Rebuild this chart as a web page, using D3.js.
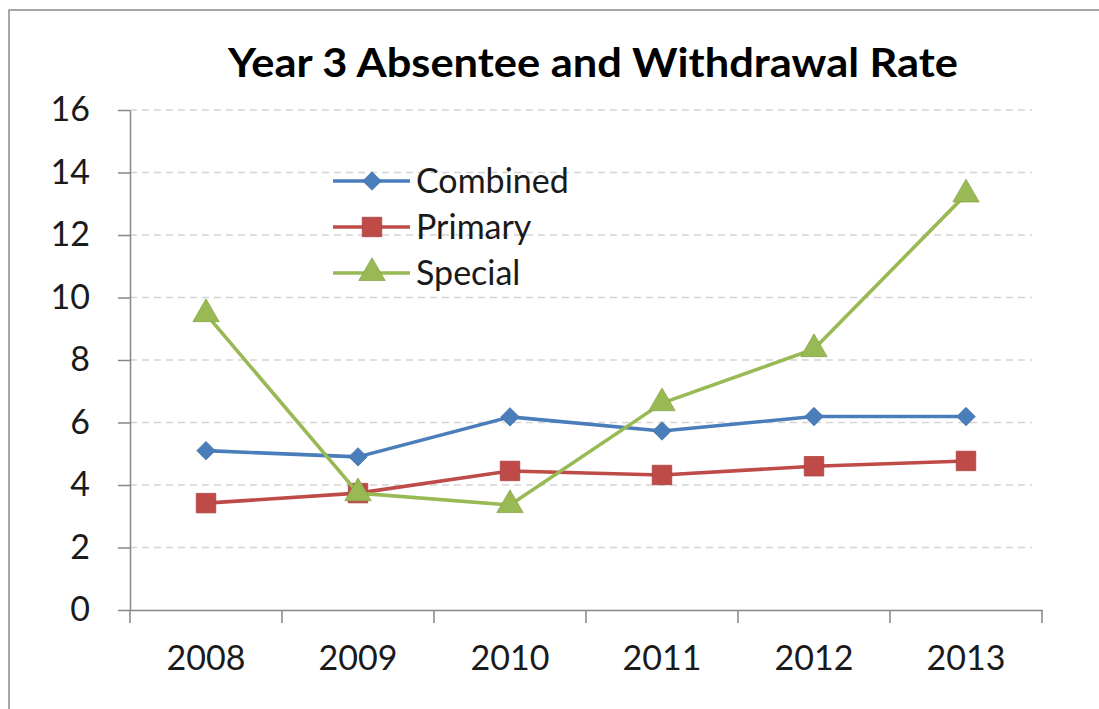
<!DOCTYPE html>
<html>
<head>
<meta charset="utf-8">
<script src="https://cdn.jsdelivr.net/npm/d3@7"></script>
<style>
  html, body { margin: 0; padding: 0; background: #fff; }
  svg { display: block; }
</style>
</head>
<body>
<script>
const years = ["2008", "2009", "2010", "2011", "2012", "2013"];
const combined = [5.1, 4.9, 6.18, 5.73, 6.19, 6.19];
const primary = [3.42, 3.74, 4.45, 4.32, 4.6, 4.77];
const special = [9.47, 3.74, 3.36, 6.62, 8.35, 13.3];
const yTicks = [0, 2, 4, 6, 8, 10, 12, 14, 16];
const seriesNames = ["Combined", "Primary", "Special"];
const seriesColors = ["#4A7EBB", "#BE4B48", "#98B954"];
const seriesShapes = ["diamond", "square", "triangle"];
const title = "Year 3 Absentee and Withdrawal Rate";

const W = 1099, H = 709;
const FONT = "Lato, 'Open Sans', sans-serif";
const svg = d3.select("body").append("svg").attr("width", W).attr("height", H);

// frame (top and left border)
svg.append("path").attr("d", `M9,${H} L9,10 L${W},10`)
  .attr("fill", "none").attr("stroke", "#8c8c8c").attr("stroke-width", 1.5);

const plot = { left: 130, right: 1042, top: 110, bottom: 610 };
const x = d3.scaleBand().domain(years).range([plot.left, plot.right]);
const y = d3.scaleLinear().domain([0, 16]).range([plot.bottom, plot.top]);

// gridlines
svg.append("g").selectAll("line").data(yTicks.filter(d => d > 0)).join("line")
  .attr("x1", plot.left).attr("x2", plot.right - 10)
  .attr("y1", d => y(d)).attr("y2", d => y(d))
  .attr("stroke", "#d4d4d4").attr("stroke-width", 1.3)
  .attr("stroke-dasharray", "7,5");

// Y axis
const yAxis = svg.append("g").attr("transform", `translate(${plot.left},0)`)
  .call(d3.axisLeft(y).tickValues(yTicks).tickSize(12).tickPadding(28).tickSizeOuter(0));
yAxis.select(".domain").attr("stroke", "#868686").attr("stroke-width", 1.5);
yAxis.selectAll(".tick line").attr("stroke", "#868686").attr("stroke-width", 1.5);
yAxis.selectAll(".tick text").attr("font-family", FONT).attr("font-size", 34)
  .attr("fill", "#1a1a1a");

// X axis
const xAxis = svg.append("g").attr("transform", `translate(0,${plot.bottom})`)
  .call(d3.axisBottom(x).tickSize(0).tickPadding(36));
xAxis.select(".domain").attr("stroke", "#868686").attr("stroke-width", 1.5);
xAxis.selectAll(".tick text").attr("font-family", FONT).attr("font-size", 34)
  .attr("fill", "#1a1a1a");
// category boundary ticks
const bounds = years.map(d => x(d)).concat([x(years[years.length - 1]) + x.bandwidth()]);
svg.append("g").selectAll("line").data(bounds).join("line")
  .attr("x1", d => d).attr("x2", d => d)
  .attr("y1", plot.bottom).attr("y2", plot.bottom + 13)
  .attr("stroke", "#868686").attr("stroke-width", 1.5);

// title
svg.append("text").attr("x", 593).attr("y", 77).attr("text-anchor", "middle")
  .attr("font-family", FONT).attr("font-weight", "bold").attr("font-size", 40)
  .attr("fill", "#000")
  .attr("textLength", 730).attr("lengthAdjust", "spacingAndGlyphs")
  .text(title);

const cx = d => x(d) + x.bandwidth() / 2;
const wideDiamond = {
  draw(ctx, size) {
    const r = Math.sqrt(size / 2);
    ctx.moveTo(0, -r); ctx.lineTo(r, 0); ctx.lineTo(0, r); ctx.lineTo(-r, 0); ctx.closePath();
  }
};
const symbolFor = s => s === "diamond" ? wideDiamond : s === "square" ? d3.symbolSquare : d3.symbolTriangle;
const sizeFor = s => s === "diamond" ? 170 : s === "square" ? 380 : 300;

function drawMarker(g, shape, color, px, py) {
  g.append("path").attr("d", d3.symbol().type(symbolFor(shape)).size(sizeFor(shape))())
    .attr("transform", `translate(${px},${py})`)
    .attr("fill", color).attr("stroke", d3.color(color).darker(0.3)).attr("stroke-width", 0.8);
}

const allSeries = [combined, primary, special];
const line = d3.line().x((d, i) => cx(years[i])).y(d => y(d));
allSeries.forEach((vals, si) => {
  const g = svg.append("g");
  g.append("path").datum(vals).attr("d", line)
    .attr("fill", "none").attr("stroke", seriesColors[si]).attr("stroke-width", 3.6)
    .attr("stroke-linejoin", "round");
  vals.forEach((v, i) => drawMarker(g, seriesShapes[si], seriesColors[si], cx(years[i]), y(v)));
});

// legend
const legend = svg.append("g");
seriesNames.forEach((name, i) => {
  const ly = 181 + i * 46;
  legend.append("line").attr("x1", 333).attr("x2", 410).attr("y1", ly).attr("y2", ly)
    .attr("stroke", seriesColors[i]).attr("stroke-width", 3.6);
  drawMarker(legend, seriesShapes[i], seriesColors[i], 372, ly);
  legend.append("text").attr("x", 416).attr("y", ly).attr("dy", "0.36em")
    .attr("font-family", FONT).attr("font-size", 34).attr("fill", "#1a1a1a").text(name);
});
</script>
</body>
</html>
